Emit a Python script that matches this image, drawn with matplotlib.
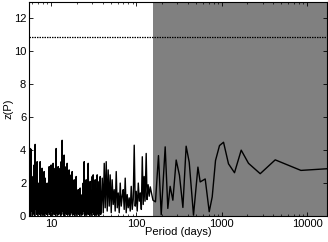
import numpy as np
import matplotlib
matplotlib.use('Agg')
import matplotlib.pyplot as plt
from matplotlib.ticker import FuncFormatter

plt.rcParams['font.family'] = ['Liberation Sans', 'DejaVu Sans']
plt.rcParams['font.size'] = 8

# short periods: densely sampled part of the periodogram (days, z)
period_dense = [
    5.52, 5.60, 5.67, 5.75, 5.83, 5.91, 5.99, 6.07, 6.15, 6.24,
    6.32, 6.41, 6.49, 6.58, 6.67, 6.76, 6.85, 6.95, 7.04, 7.14,
    7.23, 7.33, 7.43, 7.53, 7.64, 7.74, 7.84, 7.95, 8.06, 8.17,
    8.28, 8.39, 8.51, 8.62, 8.74, 8.86, 8.98, 9.10, 9.22, 9.35,
    9.48, 9.60, 9.74, 9.87, 10.00, 10.14, 10.27, 10.41, 10.55, 10.70,
    10.84, 10.99, 11.14, 11.29, 11.45, 11.60, 11.76, 11.92, 12.08, 12.25,
    12.41, 12.58, 12.75, 12.92, 13.10, 13.28, 13.46, 13.64, 13.83, 14.02,
    14.21, 14.40, 14.60, 14.80, 15.00, 15.20, 15.41, 15.62, 15.83, 16.05,
    16.26, 16.48, 16.71, 16.94, 17.17, 17.40, 17.64, 17.88, 18.12, 18.37,
    18.62, 18.87, 19.13, 19.39, 19.65, 19.92, 20.19, 20.46, 20.74, 21.02,
    21.31, 21.60, 21.89, 22.19, 22.49, 22.80, 23.11, 23.42, 23.74, 24.06,
    24.39, 24.72, 25.06, 25.40, 25.75, 26.10, 26.45, 26.81, 27.18, 27.55,
    27.92, 28.30, 28.68, 29.07, 29.47, 29.87, 30.28, 30.69, 31.10, 31.52,
    31.96, 32.39, 32.83, 33.28, 33.73, 34.19, 34.65, 35.12, 35.60, 36.08,
    36.58, 37.08, 37.58, 38.09,
    38.6, 39.7, 40.8, 41.9, 43.0, 44.2, 45.4, 46.6, 47.9, 49.2,
    50.6, 51.9, 53.4, 54.8, 56.3, 57.9, 59.5, 61.1, 62.8, 64.5,
    66.3, 68.1, 69.9, 71.8, 73.8, 75.8, 77.9, 80.0, 82.2, 84.5,
    86.8, 89.2, 91.6, 94.1, 96.7, 99.3, 102, 105, 108, 111,
    114, 117, 120, 123, 126, 130, 133, 137, 141,
]
z_dense = [
    1.6, 0.1, 4.1, 0.0, 4.05, 0.3, 1.9, 0.05, 2.4, 0.15,
    3.1, 0.0, 4.35, 0.4, 2.2, 0.1, 3.3, 0.05, 2.0, 0.2,
    1.7, 0.1, 3.3, 0.0, 2.5, 0.15, 2.9, 0.05, 1.5, 0.1,
    2.7, 0.0, 2.3, 0.2, 1.2, 0.1, 2.0, 0.05, 1.6, 0.25,
    3.0, 0.1, 2.4, 0.0, 3.1, 0.3, 2.6, 0.05, 3.2, 0.15,
    2.1, 0.1, 2.9, 0.0, 4.1, 0.2, 2.5, 0.05, 3.0, 0.1,
    2.2, 0.15, 2.9, 0.0, 3.3, 0.1, 4.6, 0.3, 2.6, 0.05,
    3.7, 0.0, 2.4, 0.2, 3.0, 0.1, 3.2, 0.05, 2.1, 0.15,
    2.8, 0.0, 1.9, 0.1, 2.5, 0.25, 2.7, 0.05, 1.4, 0.1,
    2.2, 0.0, 1.8, 0.15, 2.4, 0.05, 1.3, 0.2, 1.6, 0.1,
    0.9, 0.0, 1.7, 0.15, 1.1, 0.05, 1.3, 0.1, 2.0, 0.3,
    3.3, 0.0, 1.5, 0.1, 2.2, 0.05, 1.2, 0.2, 3.2, 0.1,
    1.6, 0.0, 2.1, 0.15, 1.3, 0.05, 2.4, 0.25, 2.5, 0.1,
    1.4, 0.0, 2.2, 0.1, 1.0, 0.05, 2.5, 0.2, 1.7, 0.0,
    2.1, 0.15, 2.4, 0.1,
    0.4, 2.3, 0.2, 3.2, 0.5, 3.3, 0.3, 2.8, 0.6, 2.5,
    0.2, 2.2, 0.7, 1.6, 0.3, 2.7, 0.5, 1.4, 0.2, 2.0,
    0.6, 1.2, 1.6, 0.4, 2.3, 0.2, 1.3, 0.5, 1.1, 0.3,
    1.8, 0.4, 1.0, 4.3, 0.6, 1.5, 0.3, 2.0, 0.9, 1.4,
    0.4, 3.6, 0.7, 2.4, 0.9, 3.8, 1.0, 1.9, 1.2,
]

# long periods: sparse part of the periodogram (days, z)
period_long = [145, 156, 167, 181, 195, 217, 233, 248, 267, 292,
               319, 350, 382, 415, 466, 525, 558, 639, 712, 772,
               844, 940, 1048, 1198, 1409, 1688, 2056, 2820, 4227, 8458,
               17060]
z_long = [1.77, 0.96, 0.86, 3.67, 0.08, 4.2, 0.46, 1.8, 0.96, 3.4,
          2.47, 0.52, 4.24, 3.27, 0.05, 2.97, 2.07, 2.25, 0.26, 1.16,
          3.37, 4.28, 4.48, 3.17, 2.63, 4.0, 3.2, 2.57, 3.41, 2.77,
          2.87]

z_threshold = 10.9      # significance level
shade_start = 155       # periods longer than this are shaded
x_range = (5.5, 17100)
y_range = (0, 13)
y_ticks = [0, 2, 4, 6, 8, 10, 12]
x_ticks = [10, 100, 1000, 10000]

period = period_dense + period_long
z = z_dense + z_long

fig = plt.figure(figsize=(3.28, 2.42), dpi=100)
ax = fig.add_axes([29 / 328, 26 / 242, 298 / 328, 214 / 242])

ax.axvspan(shade_start, x_range[1], color='#808080', lw=0, zorder=0)
ax.plot(period, z, color='k', lw=1.0, zorder=2)
ax.axhline(z_threshold, color='k', lw=0.9, ls=(0, (1.2, 0.8)), zorder=3)

ax.set_xscale('log')
ax.set_xlim(x_range)
ax.set_ylim(y_range)
ax.set_xticks(x_ticks)
ax.xaxis.set_major_formatter(FuncFormatter(lambda v, p: '%d' % v))
ax.set_yticks(y_ticks)
ax.tick_params(direction='in', top=True, right=True, length=3, width=0.6,
               labelsize=8, pad=2)
ax.tick_params(which='minor', direction='in', top=True, right=True,
               length=1.5, width=0.5)
for s in ax.spines.values():
    s.set_linewidth(0.8)

ax.set_xlabel('Period (days)', fontsize=8, labelpad=-1)
ax.set_ylabel('z(P)', fontsize=8, labelpad=0)

fig.savefig('out.png', dpi=100)
